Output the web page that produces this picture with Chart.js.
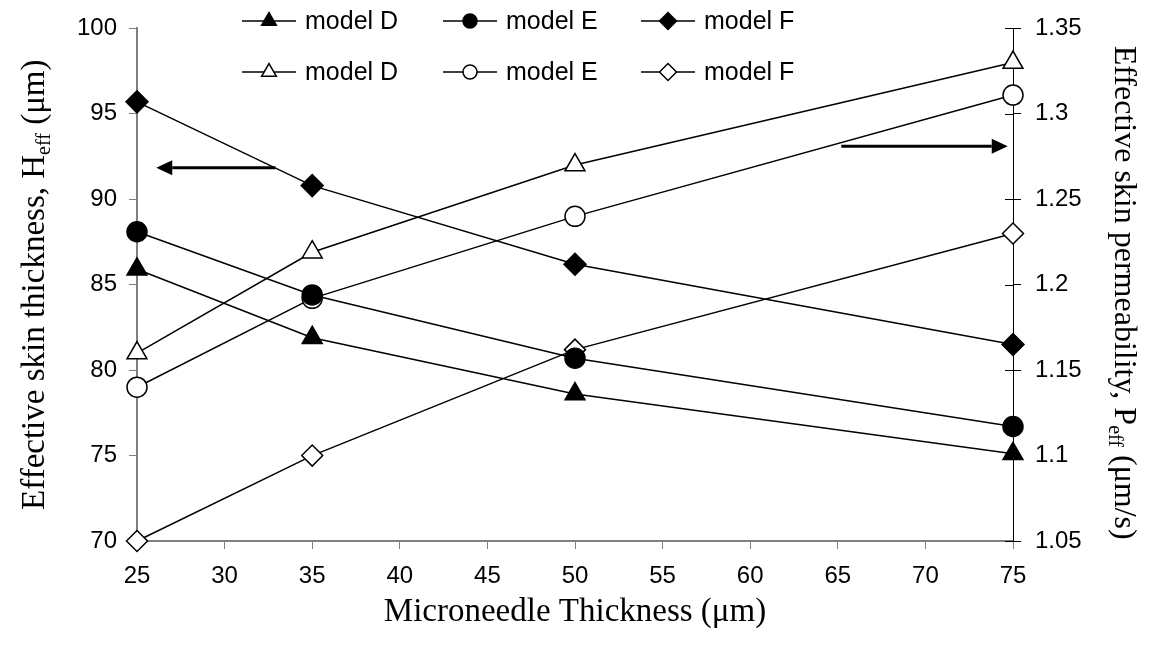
<!DOCTYPE html>
<html>
<head>
<meta charset="utf-8">
<script src="https://cdn.jsdelivr.net/npm/chart.js@4.4.1/dist/chart.umd.min.js"></script>
<style>
  body { margin: 0; background: #fff; }
  #wrap { width: 1155px; height: 659px; position: relative; }
</style>
</head>
<body>
<div id="wrap"><canvas id="grafico"></canvas></div>
<script>
// ---- datos ----
const espesores = [25, 35, 50, 75]

// eje izquierdo: espesor efectivo H_eff (um)
const hModelD = [85.9, 81.9, 78.6, 75.1]
const hModelE = [88.1, 84.4, 80.7, 76.7]
const hModelF = [95.7, 90.8, 86.2, 81.5]

// eje derecho: permeabilidad efectiva P_eff (um/s)
const pModelD = [1.16, 1.219, 1.27, 1.33]
const pModelE = [1.14, 1.192, 1.24, 1.311]
const pModelF = [1.05, 1.10, 1.162, 1.23]

const ticksX = [25, 30, 35, 40, 45, 50, 55, 60, 65, 70, 75]
const ticksIzq = [70, 75, 80, 85, 90, 95, 100]
const ticksDer = [1.05, 1.1, 1.15, 1.2, 1.25, 1.3, 1.35]

// flechas (en unidades de datos): x inicio, x fin, y (eje izquierdo)
const flechaIzq = [32.9, 26.1, 91.85]
const flechaDer = [65.2, 74.7, 93.1]

const fuenteSans = '"Liberation Sans", Arial, sans-serif'
const fuenteSerif = '"Liberation Serif", "Times New Roman", serif'

const pares = (ys) => espesores.map((x, i) => ({ x: x, y: ys[i] }))

function serie(label, ys, eje, estilo, relleno, radio) {
  return {
    label: label,
    data: pares(ys),
    yAxisID: eje,
    borderColor: '#000',
    borderWidth: 1.5,
    pointStyle: estilo,
    pointRadius: radio,
    pointHoverRadius: radio,
    pointBackgroundColor: relleno ? '#000' : '#fff',
    pointBorderColor: '#000',
    pointBorderWidth: 1.5,
    fill: false,
    clip: false,
    tension: 0
  }
}

const datasets = [
  serie('model D', hModelD, 'y', 'triangle', true, 11.5),
  serie('model E', hModelE, 'y', 'circle', true, 10),
  serie('model F', hModelF, 'y', 'rectRot', true, 11),
  serie('model D', pModelD, 'y2', 'triangle', false, 11.5),
  serie('model E', pModelE, 'y2', 'circle', false, 10),
  serie('model F', pModelF, 'y2', 'rectRot', false, 10.5)
]

// texto con subindice
function textoSub(ctx, partes, tam) {
  let total = 0
  for (const p of partes) {
    ctx.font = (p.sub ? Math.round(tam * 0.62) : tam) + 'px ' + fuenteSerif
    p.w = ctx.measureText(p.t).width
    total += p.w
  }
  let x = -total / 2
  ctx.textAlign = 'left'
  ctx.textBaseline = 'alphabetic'
  for (const p of partes) {
    ctx.font = (p.sub ? Math.round(tam * 0.62) : tam) + 'px ' + fuenteSerif
    ctx.fillText(p.t, x, p.sub ? 6 : 0)
    x += p.w
  }
}

function flecha(ctx, x1, x2, y) {
  const dir = x2 > x1 ? 1 : -1
  const largo = 16
  ctx.beginPath()
  ctx.moveTo(x1, y)
  ctx.lineTo(x2 - dir * largo, y)
  ctx.lineWidth = 3
  ctx.strokeStyle = '#000'
  ctx.stroke()
  ctx.beginPath()
  ctx.moveTo(x2, y)
  ctx.lineTo(x2 - dir * largo, y - 7.5)
  ctx.lineTo(x2 - dir * largo, y + 7.5)
  ctx.closePath()
  ctx.fillStyle = '#000'
  ctx.fill()
}

const extras = {
  id: 'extras',
  afterDraw(chart) {
    const ctx = chart.ctx
    const area = chart.chartArea
    const sx = chart.scales.x
    const sy = chart.scales.y
    const sy2 = chart.scales.y2
    ctx.save()

    // marcas interiores del eje derecho
    ctx.strokeStyle = '#000'
    ctx.lineWidth = 1
    for (const v of ticksDer) {
      const py = Math.round(sy2.getPixelForValue(v)) + 0.5
      ctx.beginPath()
      ctx.moveTo(area.right - 8, py)
      ctx.lineTo(area.right, py)
      ctx.stroke()
    }

    // flechas
    flecha(ctx, sx.getPixelForValue(flechaIzq[0]), sx.getPixelForValue(flechaIzq[1]), sy.getPixelForValue(flechaIzq[2]))
    flecha(ctx, sx.getPixelForValue(flechaDer[0]), sx.getPixelForValue(flechaDer[1]), sy.getPixelForValue(flechaDer[2]))

    // leyenda 3 x 2
    const colX = [242, 443, 641]
    const filaY = [21, 72]
    const radiosLeyenda = { triangle: 8.5, circle: 7, rectRot: 8.5 }
    chart.data.datasets.forEach((ds, i) => {
      const x0 = colX[i % 3]
      const y0 = filaY[Math.floor(i / 3)]
      ctx.beginPath()
      ctx.moveTo(x0, y0)
      ctx.lineTo(x0 + 54, y0)
      ctx.lineWidth = 1.5
      ctx.strokeStyle = '#000'
      ctx.stroke()
      ctx.fillStyle = ds.pointBackgroundColor
      ctx.strokeStyle = '#000'
      ctx.lineWidth = 1.5
      Chart.helpers.drawPoint(ctx, {
        pointStyle: ds.pointStyle,
        radius: radiosLeyenda[ds.pointStyle],
        rotation: 0,
        borderWidth: 1.5
      }, x0 + 27, y0)
      ctx.fillStyle = '#000'
      ctx.font = '25px ' + fuenteSans
      ctx.textAlign = 'left'
      ctx.textBaseline = 'middle'
      ctx.fillText(ds.label, x0 + 63, y0 + 1)
    })

    // titulos de los ejes
    const medioY = (area.top + area.bottom) / 2
    ctx.fillStyle = '#000'
    ctx.save()
    ctx.translate(44, medioY)
    ctx.rotate(-Math.PI / 2)
    textoSub(ctx, [{ t: 'Effective skin thickness, H' }, { t: 'eff', sub: true }, { t: ' (\u03bcm)' }], 33)
    ctx.restore()

    ctx.save()
    ctx.translate(1115, medioY + 8)
    ctx.rotate(Math.PI / 2)
    textoSub(ctx, [{ t: 'Effective skin permeability, P' }, { t: 'eff', sub: true }, { t: ' (\u03bcm/s)' }], 32)
    ctx.restore()

    ctx.save()
    ctx.translate((area.left + area.right) / 2, 621)
    textoSub(ctx, [{ t: 'Microneedle Thickness (\u03bcm)' }], 33)
    ctx.restore()

    ctx.restore()
  }
}

const fijarTicks = (lista) => (scale) => { scale.ticks = lista.map(v => ({ value: v })) }

new Chart(document.getElementById('grafico'), {
  type: 'line',
  data: { datasets: datasets },
  options: {
    responsive: true,
    maintainAspectRatio: false,
    animation: false,
    layout: { padding: { top: 21, left: 0, right: 0, bottom: 0 } },
    plugins: {
      legend: { display: false },
      tooltip: { enabled: false }
    },
    scales: {
      x: {
        type: 'linear',
        min: 25,
        max: 75,
        afterBuildTicks: fijarTicks(ticksX),
        afterFit: (s) => { s.height = 118 },
        grid: { drawOnChartArea: false, tickLength: 8, color: '#808080', lineWidth: 1 },
        border: { color: '#808080', width: 2 },
        ticks: { color: '#000', padding: 13, font: { family: fuenteSans, size: 24 }, maxRotation: 0 }
      },
      y: {
        position: 'left',
        min: 70,
        max: 100,
        afterBuildTicks: fijarTicks(ticksIzq),
        afterFit: (s) => { s.width = 137 },
        grid: { drawOnChartArea: false, tickLength: 8, color: '#808080', lineWidth: 1 },
        border: { color: '#808080', width: 2 },
        ticks: { color: '#000', padding: 12, font: { family: fuenteSans, size: 24 } }
      },
      y2: {
        position: 'right',
        min: 1.05,
        max: 1.35,
        afterBuildTicks: fijarTicks(ticksDer),
        afterFit: (s) => { s.width = 142 },
        grid: { drawOnChartArea: false, tickLength: 8, color: '#000', lineWidth: 1 },
        border: { color: '#000', width: 1 },
        ticks: {
          color: '#000', padding: 14, font: { family: fuenteSans, size: 24 },
          callback: (v) => String(+v.toFixed(2))
        }
      }
    }
  },
  plugins: [extras]
})
</script>
</body>
</html>
